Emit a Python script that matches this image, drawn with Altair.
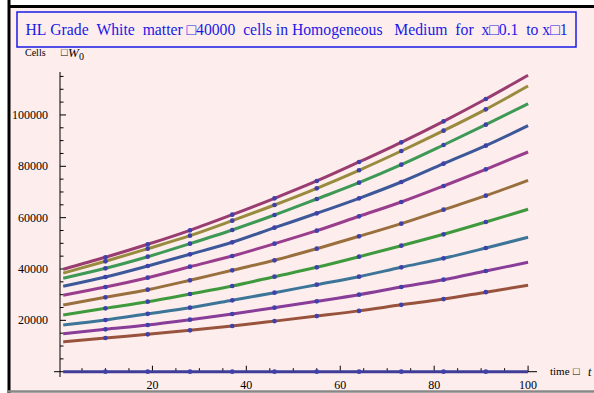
import altair as alt
import pandas as pd

# ---------------- data ----------------
t_values = [1, 10, 19, 28, 37, 46, 55, 64, 73, 82, 91, 100]
mesh_t = [10, 19, 28, 37, 46, 55, 64, 73, 82, 91]

series_names = ["c0", "c1", "c2", "c3", "c4", "c5", "c6", "c7", "c8", "c9", "c10"]
c0 = [0, 0, 0, 0, 0, 0, 0, 0, 0, 0, 0, 0]
c1 = [39900, 44560, 49620, 55075, 61150, 67540, 74280, 81680, 89350, 97530, 106220, 115450]
c2 = [38400, 43000, 47910, 52970, 58815, 64930, 71430, 78450, 85960, 93870, 102200, 111280]
c3 = [36400, 40270, 44790, 49860, 55190, 61035, 67270, 73620, 80630, 88300, 96210, 104390]
c4 = [33300, 36890, 41170, 45730, 50400, 56090, 61700, 67540, 73890, 81020, 88030, 95820]
c5 = [29800, 32990, 36610, 40900, 45065, 49860, 54920, 60530, 66100, 72330, 78830, 85570]
c6 = [26000, 28980, 31940, 35600, 39495, 43390, 47910, 52740, 57650, 63100, 68550, 74550]
c7 = [22100, 24700, 27265, 30265, 33380, 37000, 40660, 44790, 49080, 53520, 58310, 63250]
c8 = [18200, 20140, 22550, 24930, 27810, 30770, 33890, 37000, 40660, 44170, 48180, 52350]
c9 = [14800, 16510, 18190, 20250, 22470, 24930, 27420, 29990, 32990, 35830, 39220, 42610]
c10 = [11600, 13130, 14570, 16100, 17800, 19700, 21660, 23690, 26060, 28300, 30980, 33650]
all_series = [c0, c1, c2, c3, c4, c5, c6, c7, c8, c9, c10]

x_major = [20, 40, 60, 80, 100]
x_minor = [5, 10, 15, 25, 30, 35, 45, 50, 55, 65, 70, 75, 85, 90, 95]
y_major = [20000, 40000, 60000, 80000, 100000]
y_major_labels = ["20000", "40000", "60000", "80000", "100000"]
y_minor = [5000, 10000, 15000, 25000, 30000, 35000, 45000, 50000, 55000,
           65000, 70000, 75000, 85000, 90000, 95000, 105000, 110000, 115000]

NB = "\u00a0"
title_text = ("HL" + NB + "Grade" + NB * 2 + "White" + NB * 2 + "matter" + NB + "\u25a140000" + NB * 2
              + "cells" + NB + "in" + NB + "Homogeneous" + NB * 3 + "Medium" + NB * 2 + "for" + NB * 2
              + "x\u25a10.1" + NB * 2 + "to" + NB + "x\u25a11")

# ---------------- styles ----------------
colors = ["#3f3d99", "#993d71", "#998b3d", "#3d9955", "#3d5899", "#993d8d",
          "#99703d", "#3f993d", "#3d7599", "#883d99", "#99533d"]
W, H = 483, 308
PAD = {"left": 54, "top": 70, "right": 57, "bottom": 15}
SERIF = "Liberation Serif"
BLUE = "#1a1ae6"

rows = []
for name, vals in zip(series_names, all_series):
    for t, v in zip(t_values, vals):
        rows.append({"series": name, "t": t, "v": v, "mesh": t in mesh_t})
df = pd.DataFrame(rows)
dots_df = df[df["mesh"]]

xscale = alt.Scale(domain=[-0.96, 101.9], nice=False, zero=False)
yscale = alt.Scale(domain=[-2454, 117507], nice=False, zero=False)
one = pd.DataFrame({"a": [0]})

bg = alt.Chart(one).mark_rect(fill="#fdeded").encode(
    x=alt.value(-45), x2=alt.value(560), y=alt.value(-62), y2=alt.value(322))
frame_left = alt.Chart(one).mark_rule(color="black", strokeWidth=3).encode(
    x=alt.value(-45), y=alt.value(-70), y2=alt.value(323))
frame_top = alt.Chart(one).mark_rule(color="black", strokeWidth=3).encode(
    y=alt.value(-63.5), x=alt.value(-46), x2=alt.value(560))
frame_bot = alt.Chart(one).mark_rule(color="#888888", strokeWidth=2.5).encode(
    y=alt.value(321.5), x=alt.value(-46), x2=alt.value(560))

title_box = alt.Chart(one).mark_rect(fillOpacity=0, stroke=BLUE, strokeWidth=1.5).encode(
    x=alt.value(-37), x2=alt.value(522), y=alt.value(-58), y2=alt.value(-23))
title = alt.Chart(one).mark_text(font=SERIF, fontSize=15.7, color=BLUE, align="center",
                                 baseline="middle").encode(
    x=alt.value(242.5), y=alt.value(-40.5), text=alt.value(title_text))

ylab1 = alt.Chart(one).mark_text(font=SERIF, fontSize=10, color="black", align="left",
                                 baseline="middle").encode(
    x=alt.value(-29), y=alt.value(-17), text=alt.value("Cells"))
ylab2 = alt.Chart(one).mark_text(font=SERIF, fontSize=11, color="black", align="left",
                                 baseline="middle").encode(
    x=alt.value(7), y=alt.value(-17), text=alt.value("\u25a1"))
ylab3 = alt.Chart(one).mark_text(font=SERIF, fontSize=13, fontStyle="italic", color="black",
                                 align="left", baseline="middle").encode(
    x=alt.value(14), y=alt.value(-17), text=alt.value("W"))
ylab4 = alt.Chart(one).mark_text(font=SERIF, fontSize=10, color="black", align="left",
                                 baseline="middle").encode(
    x=alt.value(25), y=alt.value(-13), text=alt.value("0"))

xlab1 = alt.Chart(one).mark_text(font=SERIF, fontSize=11, color="black", align="left",
                                 baseline="middle").encode(
    x=alt.value(496), y=alt.value(301.7), text=alt.value("time"))
xlab2 = alt.Chart(one).mark_text(font=SERIF, fontSize=11, color="black", align="left",
                                 baseline="middle").encode(
    x=alt.value(519), y=alt.value(301.7), text=alt.value("\u25a1"))
xlab3 = alt.Chart(one).mark_text(font=SERIF, fontSize=12, fontStyle="italic", color="black",
                                 align="left", baseline="middle").encode(
    x=alt.value(534), y=alt.value(301.7), text=alt.value("t"))

AX_Y = 301.7   # pixel row of the x axis inside the plot area
AX_X = 6       # pixel column of the y axis inside the plot area

x_axis = alt.Chart(pd.DataFrame({"v": [0]})).mark_rule(color="black", strokeWidth=1).encode(
    y=alt.Y("v:Q", scale=yscale, axis=None), x=alt.value(0), x2=alt.value(W))
y_axis = alt.Chart(one).mark_rule(color="black", strokeWidth=1).encode(
    x=alt.value(AX_X), y=alt.value(2), y2=alt.value(307))

xmaj = alt.Chart(pd.DataFrame({"t": x_major})).mark_rule(color="black").encode(
    x=alt.X("t:Q", scale=xscale, axis=None), y=alt.value(AX_Y - 6), y2=alt.value(AX_Y))
xmin_ = alt.Chart(pd.DataFrame({"t": x_minor})).mark_rule(color="black").encode(
    x=alt.X("t:Q", scale=xscale, axis=None), y=alt.value(AX_Y - 3.5), y2=alt.value(AX_Y))
xlabels = alt.Chart(pd.DataFrame({"t": x_major, "lab": [str(v) for v in x_major]})).mark_text(
    font=SERIF, fontSize=12, color="black", align="center", baseline="middle").encode(
    x=alt.X("t:Q", scale=xscale, axis=None), y=alt.value(315), text="lab:N")

ymaj = alt.Chart(pd.DataFrame({"v": y_major})).mark_rule(color="black").encode(
    y=alt.Y("v:Q", scale=yscale, axis=None), x=alt.value(AX_X), x2=alt.value(AX_X + 6))
ymin_ = alt.Chart(pd.DataFrame({"v": y_minor})).mark_rule(color="black").encode(
    y=alt.Y("v:Q", scale=yscale, axis=None), x=alt.value(AX_X), x2=alt.value(AX_X + 3.5))
ylabels = alt.Chart(pd.DataFrame({"v": y_major, "lab": y_major_labels})).mark_text(
    font=SERIF, fontSize=12, color="black", align="right", baseline="middle").encode(
    y=alt.Y("v:Q", scale=yscale, axis=None), x=alt.value(-6), text="lab:N")

lines = alt.Chart(df).mark_line(strokeWidth=3, interpolate="monotone").encode(
    x=alt.X("t:Q", scale=xscale, axis=None),
    y=alt.Y("v:Q", scale=yscale, axis=None),
    color=alt.Color("series:N", scale=alt.Scale(domain=series_names, range=colors), legend=None),
    detail="series:N",
)
dots = alt.Chart(dots_df).mark_circle(size=22, color="#4040aa", opacity=1).encode(
    x=alt.X("t:Q", scale=xscale, axis=None),
    y=alt.Y("v:Q", scale=yscale, axis=None),
)

chart = alt.layer(
    bg, frame_left, frame_top, frame_bot, title_box, title,
    ylab1, ylab2, ylab3, ylab4, xlab1, xlab2, xlab3,
    x_axis, y_axis, xmaj, xmin_, xlabels, ymaj, ymin_, ylabels,
    lines, dots,
).properties(
    width=W, height=H,
    autosize=alt.AutoSizeParams(type="none"),
    padding=PAD,
    background="white",
).configure_view(strokeWidth=0)

chart.save("out.html", embed_options={"renderer": "svg", "actions": False})
